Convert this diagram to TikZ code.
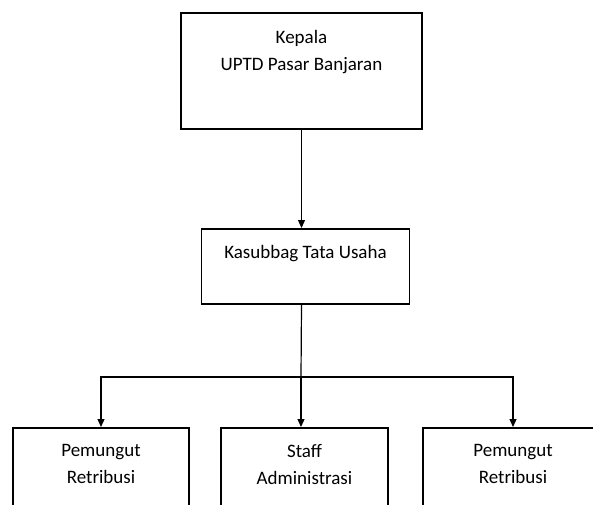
\documentclass[tikz,border=0pt]{standalone}
\usepackage{fontspec}
\setmainfont{Carlito}
\usetikzlibrary{positioning,arrows.meta}

\begin{document}
\begin{tikzpicture}[
  x=1pt,y=-1pt,
  font=\fontsize{19}{27}\selectfont,
  >={Triangle[length=8pt,width=7pt]},
  unit/.style={draw,line width=1.6pt,anchor=north,inner sep=0pt},
  caption/.style={align=center,inner sep=0pt,anchor=north},
  flow/.style={->,line width=1.2pt}
]
\useasboundingbox (0,0) rectangle (593,504);
\clip (0,0) rectangle (593,504);

\node[unit,minimum width=241pt,minimum height=116pt] (kepala) at (301.5,12) {};
\node[caption,below=18pt of kepala.north] (kepalaT) {Kepala\\UPTD Pasar Banjaran};

\node[unit,minimum width=208pt,minimum height=75pt] (kasubbag) at (305.5,228) {};
\node[caption,below=17pt of kasubbag.north] (kasubbagT) {Kasubbag Tata Usaha};

\node[unit,minimum width=176pt,minimum height=100pt] (retA) at (101,427) {};
\node[unit,minimum width=167pt,minimum height=100pt] (staff) at (304.5,427) {};
\node[unit,minimum width=180pt,minimum height=100pt] (retB) at (513,427) {};
\node[caption,below=17pt of retA.north] (retAT) {Pemungut\\Retribusi};
\node[caption,below=17pt of staff.north] (staffT) {Staff\\Administrasi};
\node[caption,below=17pt of retB.north] (retBT) {Pemungut\\Retribusi};

\draw[flow] (kepala.south) -- (kepala.south |- kasubbag.north);
\coordinate (bus) at (301,377);
\draw[line width=1.2pt] (kepala.south |- kasubbag.south) -- (bus);
\draw[flow] (bus) -| (retA.north);
\draw[flow] (bus) -- (bus |- staff.north);
\draw[flow] (bus) -| (retB.north);
\end{tikzpicture}
\end{document}
